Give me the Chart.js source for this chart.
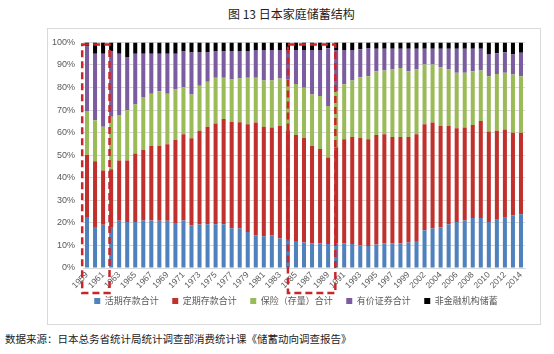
<!DOCTYPE html>
<html>
<head>
<meta charset="utf-8">
<script src="https://cdn.jsdelivr.net/npm/chart.js@4.4.1/dist/chart.umd.min.js"></script>
<style>
  body { margin: 0; width: 554px; height: 354px; background: #fff; position: relative; overflow: hidden;
         font-family: "Noto Sans CJK SC", sans-serif; }
  #title { position: absolute; left: 228px; top: 5px; font-size: 12px; color: #222; white-space: nowrap; }
  #box { position: absolute; left: 47px; top: 28px; width: 494px; height: 297px;
         border: 1px solid #d9d9d9; box-sizing: border-box; }
  #src { position: absolute; left: 5px; top: 331px; font-size: 10.5px; color: #222; white-space: nowrap; }
</style>
</head>
<body>
<div id="title">图 13 日本家庭储蓄结构</div>
<div id="box"><canvas id="savingsChart" width="492" height="295"></canvas></div>
<div id="src">数据来源：日本总务省统计局统计调查部消费统计课《储蓄动向调查报告》</div>
<script>
"use strict";

// ----------------------------
// Data (shares, %)
// ----------------------------
const years = [
  "1959","1960","1961","1962","1963","1964","1965","1966","1967","1968",
  "1969","1970","1971","1972","1973","1974","1975","1976","1977","1978",
  "1979","1980","1981","1982","1983","1984","1985","1986","1987","1988",
  "1989","1990","1991","1992","1993","1994","1995","1996","1997","1998",
  "1999","2000","2002","2003","2004","2005","2006","2007","2008","2009",
  "2010","2011","2012","2013","2014"
];

const demandDeposits = [
  22.6,18.2,19.2,18.2,20.9,20.4,20.4,21.1,21.1,20.9,
  20.9,20.0,21.1,18.9,19.3,19.4,19.4,19.4,17.6,17.5,
  16.0,14.5,14.1,14.5,13.1,12.6,12.0,11.3,10.9,10.9,
  10.6,10.9,10.9,10.6,10.1,9.7,10.4,10.9,10.9,10.9,
  11.3,12.0,16.7,17.5,17.9,19.4,20.4,21.1,22.2,22.2,
  20.4,21.4,22.3,23.3,23.8
];

const timeDeposits = [
  27.6,29.1,24.0,25.6,26.7,27.2,30.4,31.2,33.1,33.3,
  34.0,36.7,38.2,38.6,41.5,43.2,44.6,46.6,47.1,47.1,
  47.7,50.0,48.5,47.8,49.9,48.5,47.0,46.3,43.3,41.8,
  38.4,42.6,46.2,47.5,47.5,47.4,48.6,48.4,47.2,47.2,
  46.8,47.3,47.0,47.0,45.1,43.6,41.6,41.2,41.2,43.0,
  40.1,39.4,39.1,36.7,36.2
];

const insurance = [
  19.4,18.2,19.4,23.2,20.2,22.3,21.7,23.5,23.0,24.2,
  22.3,22.4,20.8,19.4,20.0,20.0,20.3,18.3,18.8,19.4,
  20.6,19.8,20.5,20.8,21.0,22.5,22.6,22.3,22.7,23.5,
  22.8,24.9,24.3,25.0,27.0,27.9,28.2,28.2,29.9,30.6,
  29.1,28.7,26.5,25.7,26.0,25.0,24.5,24.2,23.8,22.3,
  24.5,25.2,25.1,25.8,25.0
];

const securities = [
  28.6,29.5,32.4,29.0,27.2,23.6,22.5,19.2,17.8,16.6,
  17.8,15.9,15.9,18.6,14.7,12.9,11.7,11.7,12.7,12.2,
  11.9,12.3,13.5,13.5,12.6,13.0,15.0,16.7,19.7,20.4,
  25.6,18.2,15.2,13.5,12.4,12.5,10.0,9.7,9.2,8.5,
  10.0,9.2,7.0,7.0,8.2,9.2,10.7,10.7,10.0,9.7,
  9.9,9.2,9.1,8.8,10.4
];

const nonFinancial = [
  1.8,5.0,5.0,4.0,5.0,6.5,5.0,5.0,5.0,5.0,
  5.0,5.0,4.0,4.5,4.5,4.5,4.0,4.0,3.8,3.8,
  3.8,3.4,3.4,3.4,3.4,3.4,3.4,3.4,3.4,3.4,
  2.6,3.4,3.4,3.4,3.0,2.5,2.8,2.8,2.8,2.8,
  2.8,2.8,2.8,2.8,2.8,2.8,2.8,2.8,2.8,2.8,
  5.1,4.8,4.4,5.4,4.6
];

const seriesNames = ["活期存款合计", "定期存款合计", "保险（存量）合计", "有价证券合计", "非金融机构储蓄"];
const yTicks = [0, 10, 20, 30, 40, 50, 60, 70, 80, 90, 100];

// highlighted periods (first and last year inside the dashed boxes)
const markedSpans = [["1959", "1962"], ["1984", "1990"]];

// ----------------------------
// Styling
// ----------------------------
const FONT = "'Liberation Sans', 'Noto Sans CJK SC', sans-serif";
const CJK = "'Noto Sans CJK SC', sans-serif";
const colors = ["#4f81bd", "#c0302c", "#9bbb59", "#7b5ca0", "#000000"];

const seriesValues = [demandDeposits, timeDeposits, insurance, securities, nonFinancial];

// dashed red boxes drawn on top of the bars
const boxOffsets = [[-0.6, -0.2], [0.0, -0.1]];
const dashBoxes = {
  id: "dashBoxes",
  afterDraw(chart) {
    const { ctx, chartArea } = chart;
    const x = chart.scales.x;
    const step = x.getPixelForValue(1) - x.getPixelForValue(0);
    ctx.save();
    ctx.strokeStyle = "#c8262b";
    ctx.lineWidth = 2.5;
    ctx.setLineDash([7, 4]);
    markedSpans.forEach((span, i) => {
      const left = x.getPixelForValue(years.indexOf(span[0])) + boxOffsets[i][0] * step;
      const right = x.getPixelForValue(years.indexOf(span[1])) + boxOffsets[i][1] * step;
      const top = chartArea.top + 2;
      const bottom = chartArea.bottom + 25;
      ctx.strokeRect(left, top, right - left, bottom - top);
    });
    ctx.restore();
  }
};

// nudge the legend row a little to the right, like the original
const legendShift = {
  id: "legendShift",
  afterLayout(chart) {
    chart.legend.left += 14;
    chart.legend.right += 14;
  }
};

// ----------------------------
// Render Chart
// ----------------------------
const ctx = document.getElementById("savingsChart").getContext("2d");

new Chart(ctx, {
  type: "bar",
  data: {
    labels: years,
    datasets: seriesNames.map((name, i) => ({
      label: name,
      data: seriesValues[i],
      backgroundColor: colors[i],
      borderWidth: 0,
      categoryPercentage: 1,
      barPercentage: 0.5
    }))
  },
  options: {
    responsive: false,
    animation: false,
    layout: { padding: { top: 11, right: 15, bottom: 8.5, left: 0 } },
    plugins: {
      legend: {
        position: "bottom",
        labels: {
          boxWidth: 6,
          boxHeight: 6,
          padding: 4.5,
          color: "#595959",
          font: { size: 9, family: CJK },
          // trailing ideographic space widens the gap between items
          generateLabels: chart =>
            Chart.defaults.plugins.legend.labels.generateLabels(chart)
              .map(item => Object.assign(item, { text: item.text + "\u3000" }))
        }
      },
      tooltip: { enabled: false }
    },
    scales: {
      x: {
        stacked: true,
        grid: { display: false, drawTicks: false },
        border: { color: "#d9d9d9" },
        ticks: {
          autoSkip: false,
          minRotation: 45,
          maxRotation: 45,
          padding: 2,
          color: "#595959",
          font: { size: 8.5, family: FONT },
          callback: (v, i) => (i % 2 === 0 ? years[i] : "")
        },
        afterFit: s => { s.height = 24; }
      },
      y: {
        stacked: true,
        min: 0,
        max: 100,
        afterBuildTicks: s => { s.ticks = yTicks.map(v => ({ value: v })); },
        ticks: {
          padding: 8,
          color: "#595959",
          font: { size: 9, family: FONT },
          callback: v => v + "%"
        },
        grid: { color: "#d9d9d9", drawTicks: false },
        border: { display: false },
        afterFit: s => { s.width = 35; }
      }
    }
  },
  plugins: [dashBoxes, legendShift]
});
</script>
</body>
</html>
